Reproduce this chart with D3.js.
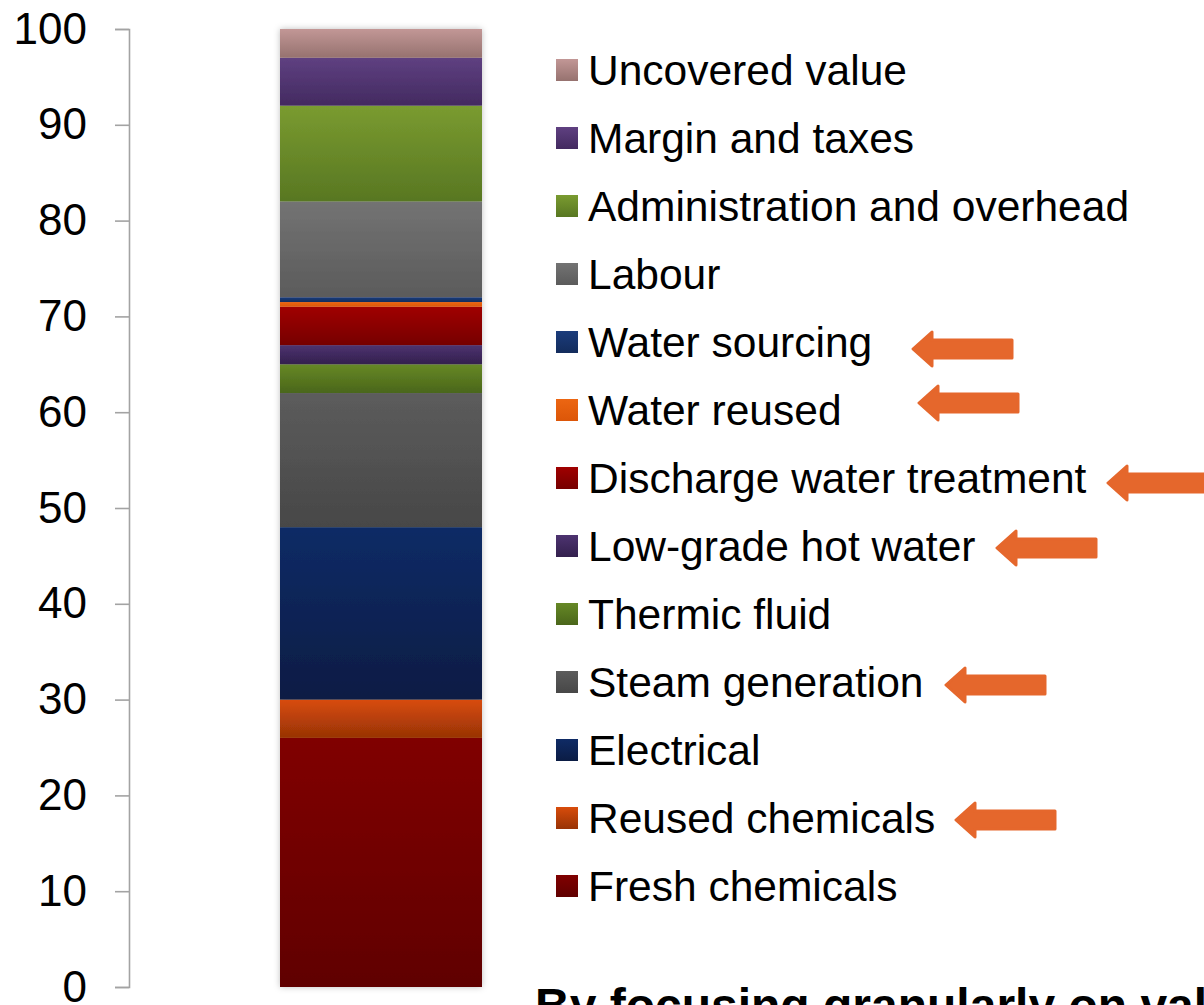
<!DOCTYPE html>
<html>
<head>
<meta charset="utf-8">
<script src="https://cdn.jsdelivr.net/npm/d3@7"></script>
<style>
  html, body { margin: 0; padding: 0; background: #fff; overflow: hidden; }
  svg { display: block; font-family: "Liberation Sans", Arial, sans-serif; }
</style>
</head>
<body>
<svg id="chart" width="1204" height="1005"></svg>
<script>
// data, bottom of the stack first
const categories = [
  'Fresh chemicals', 'Reused chemicals', 'Electrical', 'Steam generation',
  'Thermic fluid', 'Low-grade hot water', 'Discharge water treatment',
  'Water reused', 'Water sourcing', 'Labour', 'Administration and overhead',
  'Margin and taxes', 'Uncovered value'
]
const values = [26, 4, 18, 14, 3, 2, 4, 0.5, 0.5, 10, 10, 5, 3]
const yTicks = [0, 10, 20, 30, 40, 50, 60, 70, 80, 90, 100]
const highlighted = [
  'Water sourcing', 'Water reused', 'Discharge water treatment',
  'Low-grade hot water', 'Steam generation', 'Reused chemicals'
]
const footnote = 'By focusing granularly on value creation'

// gradient colours, top -> bottom
const colorTop = ['#800000', '#d84c0b', '#0f2b66', '#5c5c5c', '#668826', '#4d3370',
  '#a00000', '#ec6612', '#1b3c7c', '#737373', '#7a9b30', '#5f4081', '#c29796']
const colorBottom = ['#600000', '#983305', '#0b1c44', '#474747', '#4a661a', '#33204d',
  '#760000', '#dc5608', '#132c5c', '#5b5b5b', '#587722', '#432a60', '#96726f']

const svg = d3.select('#chart')
const defs = svg.append('defs')

categories.forEach((c, i) => {
  const g = defs.append('linearGradient')
      .attr('id', 'grad' + i)
      .attr('x1', 0).attr('y1', 0)
      .attr('x2', 0).attr('y2', 1)
  g.append('stop').attr('offset', '0%').attr('stop-color', colorTop[i])
  g.append('stop').attr('offset', '100%').attr('stop-color', colorBottom[i])
})

const shadow = defs.append('filter')
    .attr('id', 'shadow')
    .attr('x', '-20%').attr('y', '-5%')
    .attr('width', '140%').attr('height', '110%')
shadow.append('feDropShadow')
    .attr('dx', 0).attr('dy', 0)
    .attr('stdDeviation', 3)
    .attr('flood-color', '#000')
    .attr('flood-opacity', 0.25)

const y = d3.scaleLinear().domain([0, 100]).range([987, 29])
const x = d3.scaleBand().domain(['cost']).range([280, 482])

// axis
const axis = svg.append('g')
    .attr('transform', 'translate(129,0)')
    .call(d3.axisLeft(y).tickValues(yTicks).tickSize(14).tickPadding(28))
axis.select('.domain').attr('stroke', '#a3a3a3').attr('stroke-width', 1.6)
axis.selectAll('.tick line').attr('stroke', '#a3a3a3').attr('stroke-width', 1.6)
axis.selectAll('.tick text')
    .attr('fill', '#000')
    .style('font-size', '44px')
    .style('font-family', '"Liberation Sans", Arial, sans-serif')

// stacked bar
const row = {}
categories.forEach((c, i) => { row[c] = values[i] })
const series = d3.stack().keys(categories)([row])

const bar = svg.append('g').attr('filter', 'url(#shadow)')
bar.selectAll('rect')
  .data(series)
  .join('rect')
    .attr('x', x('cost'))
    .attr('width', x.bandwidth())
    .attr('y', d => y(d[0][1]))
    .attr('height', d => y(d[0][0]) - y(d[0][1]))
    .attr('fill', (d, i) => `url(#grad${i})`)

// legend, top item is the top of the stack
const legendItems = categories.map((c, i) => ({ name: c, i })).reverse()
const legend = svg.append('g')
const item = legend.selectAll('g')
  .data(legendItems)
  .join('g')
    .attr('transform', (d, k) => `translate(556,${70 + k * 68})`)

item.append('rect')
    .attr('x', 0).attr('y', -11)
    .attr('width', 22).attr('height', 22)
    .attr('fill', d => `url(#grad${d.i})`)

item.append('text')
    .attr('x', 32)
    .attr('dy', '0.35em')
    .style('font-size', '42.5px')
    .text(d => d.name)

// arrows pointing at highlighted legend entries
const arrowTipX = [913, 919, 1108, 997, 946, 956]
const arrowDy = [7, -7, 5, 2, 3, 2]
const arrowColor = '#e5672c'

highlighted.forEach((name, k) => {
  const idx = legendItems.findIndex(d => d.name === name)
  const cy = 70 + idx * 68 + arrowDy[k]
  const tip = arrowTipX[k]
  const p = d3.path()
  p.moveTo(tip, cy)
  p.lineTo(tip + 19, cy - 17)
  p.lineTo(tip + 19, cy - 9)
  p.lineTo(tip + 99, cy - 9)
  p.lineTo(tip + 99, cy + 9)
  p.lineTo(tip + 19, cy + 9)
  p.lineTo(tip + 19, cy + 17)
  p.closePath()
  svg.append('path')
      .attr('d', p.toString())
      .attr('fill', arrowColor)
      .attr('stroke', arrowColor)
      .attr('stroke-width', 3)
      .attr('stroke-linejoin', 'round')
})

svg.append('text')
    .attr('x', 535)
    .attr('y', 1022)
    .style('font-size', '48px')
    .style('font-weight', 'bold')
    .text(footnote)
</script>
</body>
</html>
